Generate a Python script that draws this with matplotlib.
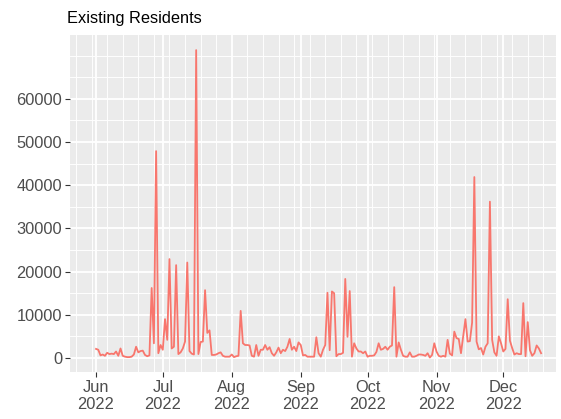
import matplotlib
matplotlib.use('Agg')
import matplotlib.pyplot as plt
import matplotlib.dates as mdates
from matplotlib.ticker import FixedLocator, MultipleLocator, FuncFormatter
import pandas as pd

# Daily counts, 1 Jun 2022 onwards
start_date = '2022-06-01'
residents = [
    2100, 1900, 600, 800, 500, 1200, 900, 1000, 900, 1500,
    500, 2200, 500, 300, 200, 200, 300, 800, 2600, 1300,
    1600, 1700, 700, 400, 600, 16200, 3400, 47900, 1100, 3000,
    1900, 9000, 4200, 22900, 2200, 2600, 21500, 900, 1300, 2200,
    3800, 22100, 1600, 1000, 800, 71300, 900, 3700, 3800, 15700,
    5800, 6400, 700, 700, 800, 1100, 1300, 500, 300, 300,
    300, 800, 200, 400, 500, 10900, 3400, 3000, 3000, 2900,
    500, 300, 3000, 500, 1900, 1900, 3000, 1900, 2500, 1100,
    500, 1300, 2400, 1100, 1900, 1600, 2600, 4400, 1900, 2600,
    1600, 3600, 3000, 600, 700, 300, 300, 300, 300, 4800,
    1100, 300, 1900, 3000, 15100, 1800, 15400, 15000, 400, 900,
    900, 1200, 18300, 4900, 15500, 300, 3400, 2200, 1500, 1500,
    1100, 1500, 300, 500, 500, 600, 1400, 3400, 1900, 2100,
    2600, 1900, 2600, 2900, 16400, 300, 3600, 1900, 500, 300,
    300, 1300, 300, 300, 500, 800, 800, 700, 500, 1100,
    100, 700, 3400, 1500, 500, 300, 500, 300, 4200, 1000,
    600, 6100, 4600, 4400, 1100, 5000, 9000, 3800, 3900, 8200,
    41900, 3800, 2000, 2300, 800, 2600, 3400, 36200, 4200, 1300,
    500, 5000, 3400, 1500, 2100, 13600, 4000, 2300, 800, 1100,
    900, 900, 12700, 400, 8300, 1800, 500, 1100, 2900, 2200,
    1100,
]
dates = pd.date_range(start_date, periods=len(residents), freq='D')
y_ticks = [0, 10000, 20000, 30000, 40000, 50000, 60000]

plt.rcParams['font.family'] = ['Liberation Sans', 'DejaVu Sans']

W, H = 561, 419
fig = plt.figure(figsize=(W / 100, H / 100), dpi=100)
ax = fig.add_axes([70 / W, (H - 372) / H, (556 - 70) / W, (372 - 35) / H])

ax.set_facecolor('#EBEBEB')
for s in ax.spines.values():
    s.set_visible(False)

ax.plot(dates, residents, color='#F8766D', linewidth=1.3, zorder=3)

# axes limits (ggplot style expansion)
ax.set_xlim(dates[0] - pd.Timedelta(days=11.7), dates[0] + pd.Timedelta(days=206.7))
ax.set_ylim(-3250, 74800)

ax.xaxis.set_major_locator(mdates.MonthLocator())
ax.xaxis.set_major_formatter(mdates.DateFormatter('%b\n%Y'))
ax.xaxis.set_minor_locator(mdates.WeekdayLocator(byweekday=mdates.MO))
ax.yaxis.set_major_locator(FixedLocator(y_ticks))
ax.yaxis.set_minor_locator(MultipleLocator(5000))
ax.yaxis.set_major_formatter(FuncFormatter(lambda v, p: f'{int(v)}'))

ax.grid(which='major', color='white', linewidth=1.3)
ax.grid(which='minor', color='white', linewidth=0.65)
ax.set_axisbelow(True)

ax.tick_params(which='major', length=3.5, width=0.8, color='#333333',
               labelsize=11.8, labelcolor='#4D4D4D', pad=2)
ax.tick_params(which='minor', length=0)

fig.text(67 / W, 1 - 23 / H, 'Existing Residents', fontsize=11.8,
         color='black', ha='left', va='baseline')

fig.savefig('out.png', dpi=100)
